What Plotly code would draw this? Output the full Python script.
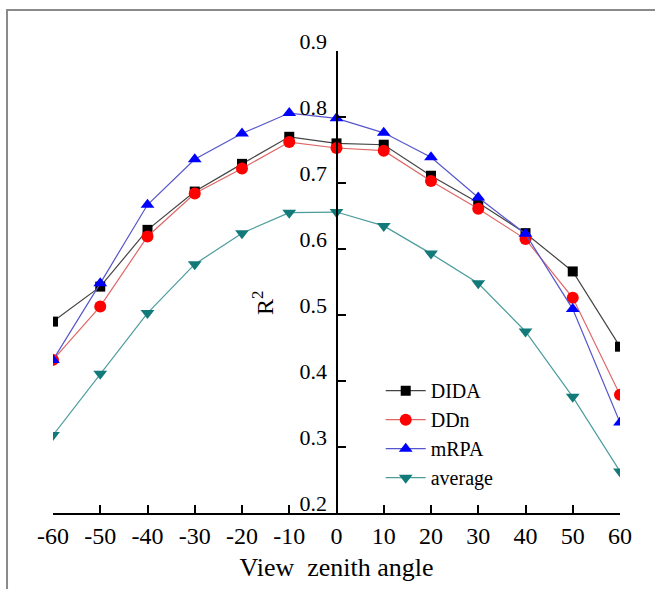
import plotly.graph_objects as go

angles = [-60, -50, -40, -30, -20, -10, 0, 10, 20, 30, 40, 50, 60]
dida = [0.490, 0.543, 0.629, 0.687, 0.729, 0.770, 0.760, 0.758, 0.711, 0.670, 0.624, 0.566, 0.452]
ddn = [0.432, 0.513, 0.619, 0.684, 0.722, 0.762, 0.753, 0.749, 0.703, 0.661, 0.615, 0.526, 0.379]
mrpa = [0.432, 0.548, 0.667, 0.736, 0.775, 0.806, 0.798, 0.776, 0.739, 0.678, 0.623, 0.509, 0.337]
average = [0.318, 0.411, 0.503, 0.577, 0.624, 0.655, 0.656, 0.635, 0.593, 0.548, 0.475, 0.376, 0.263]

x_ticks = [-60, -50, -40, -30, -20, -10, 0, 10, 20, 30, 40, 50, 60]
y_ticks = [0.2, 0.3, 0.4, 0.5, 0.6, 0.7, 0.8, 0.9]

FONT = "Liberation Serif, Times New Roman, serif"

series = [
    ("DIDA", dida, "#000000", "#444444", "square", 10),
    ("DDn", ddn, "#ff0000", "#e06666", "circle", 12),
    ("mRPA", mrpa, "#0000ff", "#5555cc", "triangle-up", 12),
    ("average", average, "#137a7a", "#4c9c9c", "triangle-down", 12),
]

fig = go.Figure()
for name, vals, mcol, lcol, sym, sz in series:
    fig.add_trace(go.Scatter(
        x=angles, y=vals, name=name, mode="lines+markers",
        line=dict(color=lcol, width=1.2),
        marker=dict(symbol=sym, size=sz, color=mcol, line=dict(width=0)),
    ))

fig.update_layout(
    width=655, height=589,
    margin=dict(l=53, r=35, t=51, b=76),
    paper_bgcolor="white", plot_bgcolor="white",
    font=dict(family=FONT, size=21, color="black"),
    showlegend=True,
    legend=dict(
        x=0.578, y=0.307, xanchor="left", yanchor="top",
        bgcolor="rgba(0,0,0,0)", font=dict(family=FONT, size=20),
        itemwidth=40, tracegroupgap=0,
    ),
    xaxis=dict(
        range=[-60, 60], tickvals=x_ticks, ticktext=[str(v) for v in x_ticks],
        showgrid=False, zeroline=False, showline=True, linecolor="black", linewidth=2,
        ticks="inside", ticklen=8, tickwidth=2, tickcolor="black",
        tickfont=dict(family=FONT, size=24),
        title=dict(text="View\u00a0 zenith angle", font=dict(family=FONT, size=26), standoff=10),
    ),
    yaxis=dict(
        range=[0.2, 0.9], tickvals=y_ticks, ticktext=[f"{v:.1f}" for v in y_ticks],
        anchor="free", position=0.5, side="left",
        showgrid=False, zeroline=False, showline=True, linecolor="black", linewidth=2,
        ticks="inside", ticklen=8, tickwidth=2, tickcolor="black",
        tickfont=dict(family=FONT, size=22),
        ticklabelshift=-10, ticklabelstandoff=4,
    ),
    shapes=[dict(
        type="rect", xref="paper", yref="paper",
        x0=-0.0811, x1=1.3, y0=-0.4, y1=1.0887,
        line=dict(color="#8a8a8a", width=2), fillcolor="rgba(0,0,0,0)", layer="below",
    )],
    annotations=[dict(
        text="R<sup>2</sup>", xref="paper", yref="paper",
        x=(263 - 53) / 567, y=(513 - 303) / 462, showarrow=False,
        textangle=-90, font=dict(family=FONT, size=24),
        xanchor="center", yanchor="middle",
    )],
)

fig.write_html(
    "out.html",
    config={"displayModeBar": False},
    post_script="document.body.style.margin='0';document.body.style.overflow='hidden';",
)
